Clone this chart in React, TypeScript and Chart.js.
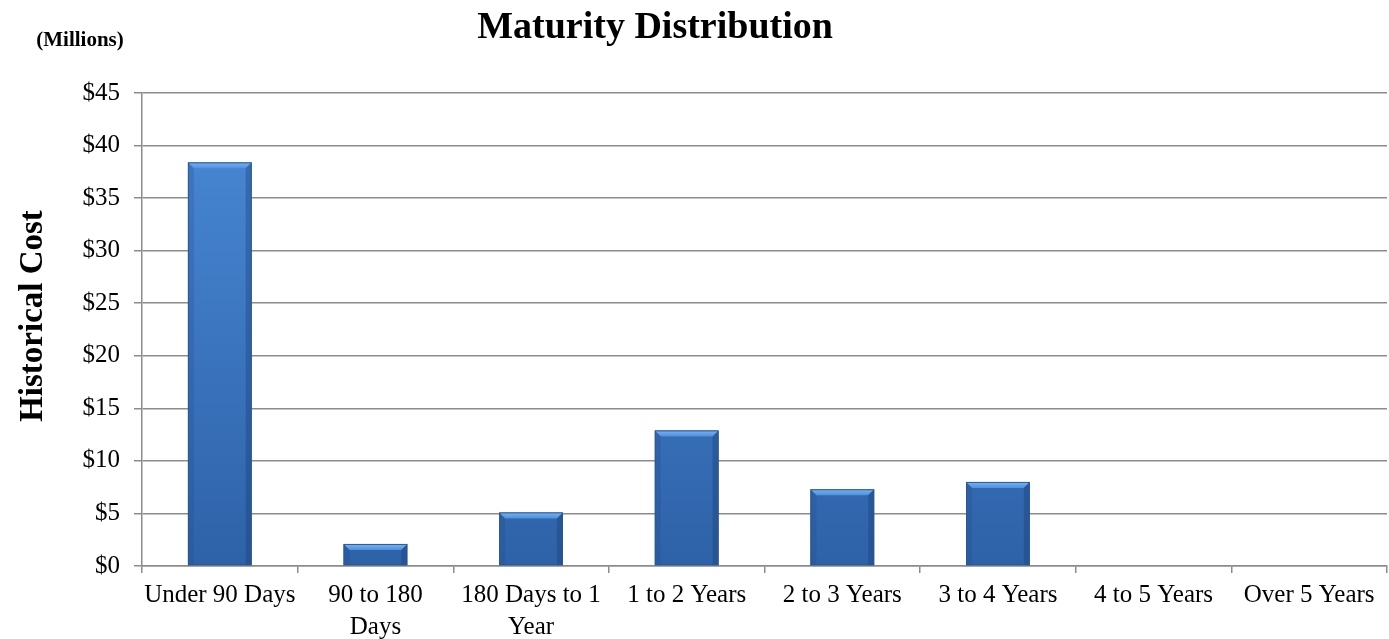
import React, { useEffect, useRef } from "react";
import { Chart, registerables } from "chart.js";

Chart.register(...registerables);

const categories: (string | string[])[] = [
  "Under 90 Days",
  ["90 to 180", "Days"],
  ["180 Days to 1", "Year"],
  "1 to 2 Years",
  "2 to 3 Years",
  "3 to 4 Years",
  "4 to 5 Years",
  "Over 5 Years",
];
const historicalCost: number[] = [38.4, 2.1, 5.1, 12.9, 7.3, 8.0, 0, 0];
const yTickMax = 45;
const yTickStep = 5;
const chartTitle = "Maturity Distribution";
const unitLabel = "(Millions)";
const yAxisTitle = "Historical Cost";

const FONT = "'Liberation Serif', 'Times New Roman', serif";
const GRID = "#8c8c8c";

const textPlugin = {
  id: "texts",
  afterDraw(chart: any) {
    const ctx = chart.ctx;
    ctx.save();
    ctx.fillStyle = "#000";
    ctx.textBaseline = "alphabetic";
    ctx.textAlign = "center";
    ctx.font = `bold 38px ${FONT}`;
    ctx.fillText(chartTitle, 655, 38);
    ctx.font = `bold 21px ${FONT}`;
    ctx.fillText(unitLabel, 80, 46);
    ctx.translate(42, 316);
    ctx.rotate(-Math.PI / 2);
    ctx.font = `bold 33px ${FONT}`;
    ctx.fillText(yAxisTitle, 0, 0);
    ctx.restore();
  },
};

const bevelPlugin = {
  id: "bevel",
  afterDatasetsDraw(chart: any) {
    const ctx = chart.ctx;
    const meta = chart.getDatasetMeta(0);
    meta.data.forEach((bar: any) => {
      const { x, y, base, width } = bar.getProps(["x", "y", "base", "width"], true);
      const h = base - y;
      if (h < 1) return;
      const l = x - width / 2;
      const r = x + width / 2;
      const b = Math.min(6, h / 2);
      ctx.save();
      const tg = ctx.createLinearGradient(0, y, 0, y + b);
      tg.addColorStop(0, "#7ab4f2");
      tg.addColorStop(1, "#4f8fdc");
      ctx.fillStyle = tg;
      ctx.beginPath();
      ctx.moveTo(l, y);
      ctx.lineTo(r, y);
      ctx.lineTo(r - b, y + b);
      ctx.lineTo(l + b, y + b);
      ctx.closePath();
      ctx.fill();
      ctx.fillStyle = "rgba(30,70,130,0.22)";
      ctx.beginPath();
      ctx.moveTo(l, y);
      ctx.lineTo(l + b, y + b);
      ctx.lineTo(l + b, base);
      ctx.lineTo(l, base);
      ctx.closePath();
      ctx.fill();
      ctx.fillStyle = "rgba(20,50,100,0.3)";
      ctx.beginPath();
      ctx.moveTo(r, y);
      ctx.lineTo(r - b, y + b);
      ctx.lineTo(r - b, base);
      ctx.lineTo(r, base);
      ctx.closePath();
      ctx.fill();
      ctx.strokeStyle = "#2a5893";
      ctx.lineWidth = 1;
      ctx.strokeRect(l + 0.5, y + 0.5, width - 1, h - 1);
      ctx.restore();
    });
  },
};

export default function App() {
  const ref = useRef<HTMLCanvasElement>(null);
  useEffect(() => {
    if (!ref.current) return;
    const chart = new Chart(ref.current, {
      type: "bar",
      data: {
        labels: categories,
        datasets: [
          {
            data: historicalCost,
            backgroundColor: (c: any) => {
              const area = c.chart.chartArea;
              if (!area) return "#3a78c6";
              const g = c.chart.ctx.createLinearGradient(0, area.top, 0, area.bottom);
              g.addColorStop(0, "#4a8ad8");
              g.addColorStop(1, "#2e62a8");
              return g;
            },
            borderWidth: 0,
            barPercentage: 0.41,
            categoryPercentage: 1,
          },
        ],
      },
      options: {
        responsive: false,
        animation: false,
        layout: { padding: { top: 93, right: 2, left: 0, bottom: 0 } },
        plugins: {
          legend: { display: false },
          title: { display: false },
          tooltip: { enabled: false },
        },
        scales: {
          x: {
            afterFit: (s: any) => {
              s.height = 73;
            },
            grid: {
              drawOnChartArea: false,
              drawTicks: true,
              tickLength: 7,
              color: GRID,
              lineWidth: 1.5,
              offset: true,
            },
            border: { display: true, color: GRID, width: 1.5 },
            ticks: {
              color: "#000",
              font: { family: FONT, size: 25, lineHeight: 1.3 },
              padding: 6,
              maxRotation: 0,
              autoSkip: false,
            },
          },
          y: {
            min: 0,
            max: yTickMax,
            afterFit: (s: any) => {
              s.width = 142;
            },
            grid: {
              color: GRID,
              lineWidth: 1.5,
              tickLength: 8,
            },
            border: { display: true, color: GRID, width: 1.5 },
            ticks: {
              stepSize: yTickStep,
              color: "#000",
              font: { family: FONT, size: 25 },
              padding: 14,
              callback: (v: any) => "$" + v,
            },
          },
        },
      },
      plugins: [bevelPlugin, textPlugin],
    });
    return () => chart.destroy();
  }, []);
  return (
    <div style={{ position: "absolute", left: 0, top: 0, width: 1389, height: 639, background: "#fff" }}>
      <canvas ref={ref} width={1389} height={639} />
    </div>
  );
}
